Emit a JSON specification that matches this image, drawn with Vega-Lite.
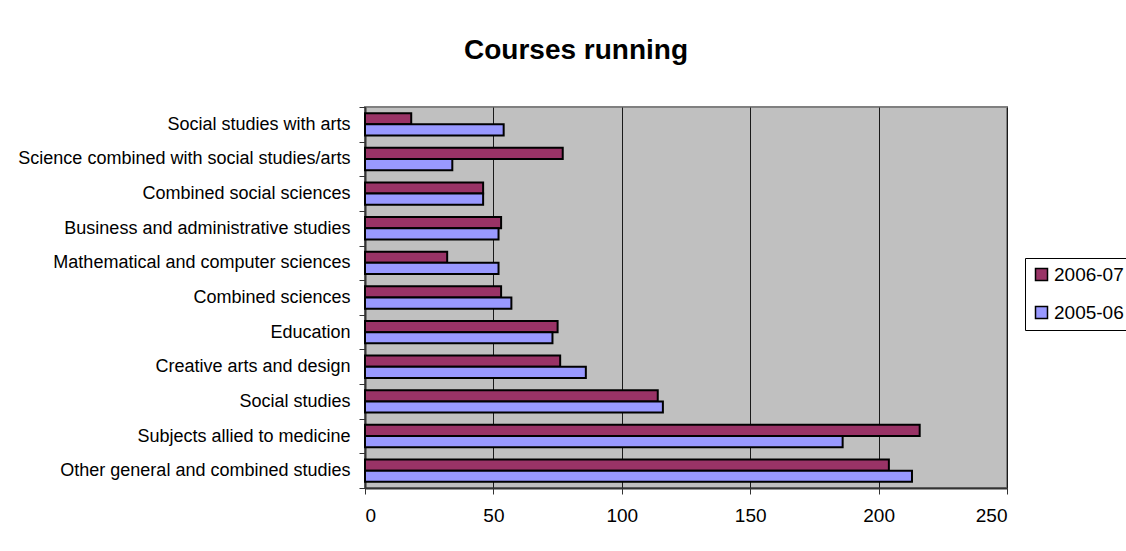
{
  "$schema": "https://vega.github.io/schema/vega-lite/v6.json",
  "width": 642,
  "height": 381,
  "autosize": "none",
  "padding": {"left": 365, "top": 107, "right": 119, "bottom": 63},
  "background": "white",
  "config": {
    "font": "Liberation Sans",
    "view": {"fill": "#C0C0C0", "stroke": "#808080", "strokeWidth": 2}
  },
  "title": {
    "text": "Courses running",
    "fontSize": 28,
    "fontWeight": "bold",
    "font": "Liberation Sans",
    "color": "black",
    "anchor": "middle",
    "dx": -110,
    "baseline": "alphabetic",
    "offset": 11
  },
  "data": {
    "values": [
      {"course": "Social studies with arts", "year": "2006-07", "value": 18},
      {"course": "Social studies with arts", "year": "2005-06", "value": 54},
      {"course": "Science combined with social studies/arts", "year": "2006-07", "value": 77},
      {"course": "Science combined with social studies/arts", "year": "2005-06", "value": 34},
      {"course": "Combined social sciences", "year": "2006-07", "value": 46},
      {"course": "Combined social sciences", "year": "2005-06", "value": 46},
      {"course": "Business and administrative studies", "year": "2006-07", "value": 53},
      {"course": "Business and administrative studies", "year": "2005-06", "value": 52},
      {"course": "Mathematical and computer sciences", "year": "2006-07", "value": 32},
      {"course": "Mathematical and computer sciences", "year": "2005-06", "value": 52},
      {"course": "Combined sciences", "year": "2006-07", "value": 53},
      {"course": "Combined sciences", "year": "2005-06", "value": 57},
      {"course": "Education", "year": "2006-07", "value": 75},
      {"course": "Education", "year": "2005-06", "value": 73},
      {"course": "Creative arts and design", "year": "2006-07", "value": 76},
      {"course": "Creative arts and design", "year": "2005-06", "value": 86},
      {"course": "Social studies", "year": "2006-07", "value": 114},
      {"course": "Social studies", "year": "2005-06", "value": 116},
      {"course": "Subjects allied to medicine", "year": "2006-07", "value": 216},
      {"course": "Subjects allied to medicine", "year": "2005-06", "value": 186},
      {"course": "Other general and combined studies", "year": "2006-07", "value": 204},
      {"course": "Other general and combined studies", "year": "2005-06", "value": 213}
    ]
  },
  "mark": {"type": "bar", "stroke": "black", "strokeWidth": 2},
  "encoding": {
    "y": {
      "field": "course",
      "type": "nominal",
      "sort": null,
      "scale": {"paddingInner": 0, "paddingOuter": 0},
      "axis": {
        "title": null,
        "tickBand": "extent",
        "ticks": true,
        "tickSize": 6,
        "tickColor": "#333",
        "domain": true,
        "domainColor": "#333",
        "domainWidth": 2,
        "labelFontSize": 18,
        "labelFont": "Liberation Sans",
        "labelColor": "black",
        "labelPadding": 9,
        "labelLimit": 400,
        "grid": false
      }
    },
    "yOffset": {
      "field": "year",
      "type": "nominal",
      "sort": ["2006-07", "2005-06"],
      "scale": {"paddingInner": 0, "paddingOuter": 0.55}
    },
    "x": {
      "field": "value",
      "type": "quantitative",
      "scale": {"domain": [0, 250], "nice": false},
      "axis": {
        "title": null,
        "values": [0, 50, 100, 150, 200, 250],
        "grid": true,
        "gridColor": "#1a1a1a",
        "gridWidth": 1,
        "gridOpacity": 1,
        "tickSize": 6,
        "tickColor": "#333",
        "domainColor": "#333",
        "domainWidth": 2,
        "labelFontSize": 19,
        "labelFont": "Liberation Sans",
        "labelColor": "black",
        "labelPadding": 12
      }
    },
    "color": {
      "field": "year",
      "type": "nominal",
      "scale": {"domain": ["2006-07", "2005-06"], "range": ["#993366", "#9999FF"]},
      "legend": {
        "title": null,
        "orient": "none",
        "legendX": 660,
        "legendY": 151,
        "strokeColor": "black",
        "fillColor": "white",
        "padding": 7,
        "symbolType": "square",
        "symbolSize": 144,
        "symbolStrokeColor": "black",
        "symbolStrokeWidth": 1.5,
        "symbolOpacity": 1,
        "labelFontSize": 19,
        "labelFont": "Liberation Sans",
        "labelColor": "black",
        "labelOffset": 3,
        "rowPadding": 18,
        "labelLimit": 200
      }
    }
  }
}
